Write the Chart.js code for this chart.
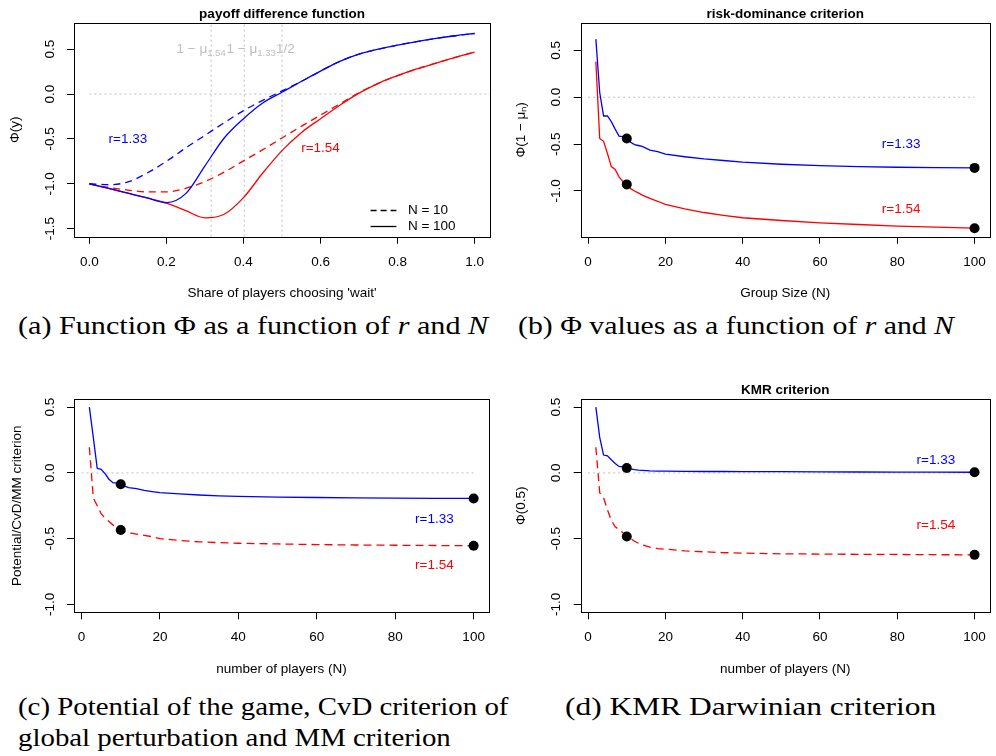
<!DOCTYPE html>
<html>
<head>
<meta charset="utf-8">
<script src="https://cdn.jsdelivr.net/npm/chart.js@4.4.1/dist/chart.umd.min.js"></script>
<style>
  body { margin: 0; background: #fff; width: 996px; height: 756px; position: relative; overflow: hidden; }
  canvas { position: absolute; }
  .cap { position: absolute; font-family: "Liberation Serif", "DejaVu Serif", serif; font-size: 26px; line-height: 31px; color: #000; white-space: nowrap; transform: scaleX(1.16); transform-origin: 0 0; }
</style>
</head>
<body>
<canvas id="chart-a" width="498" height="302" style="left:0;top:0"></canvas>
<canvas id="chart-b" width="496" height="302" style="left:500px;top:0"></canvas>
<canvas id="chart-c" width="498" height="298" style="left:0;top:380px"></canvas>
<canvas id="chart-d" width="496" height="298" style="left:500px;top:380px"></canvas>
<div class="cap" style="left:18px;top:310px">(a) Function Φ as a function of <i>r</i> and <i>N</i></div>
<div class="cap" style="left:518px;top:310px;transform:scaleX(1.145)">(b) Φ values as a function of <i>r</i> and <i>N</i></div>
<div class="cap" style="left:18px;top:691px;transform:scaleX(1.11)">(c) Potential of the game, CvD criterion of<br>global perturbation and MM criterion</div>
<div class="cap" style="left:565px;top:691px;transform:scaleX(1.21)">(d) KMR Darwinian criterion</div>
<script>
// panel (a): payoff difference as a function of the share choosing 'wait'
const shareX = [0, 0.05, 0.1, 0.15, 0.2, 0.25, 0.3, 0.35, 0.4, 0.45, 0.5, 0.55, 0.6, 0.65, 0.7, 0.75, 0.8, 0.85, 0.9, 0.95, 1];
const phiN10r133 = [-1.00, -1.01, -0.98, -0.88, -0.75, -0.60, -0.46, -0.32, -0.185, -0.07, 0.035, 0.14, 0.255, 0.365, 0.445, 0.50, 0.545, 0.585, 0.62, 0.65, 0.675];
const phiN100r133 = [-1.00, -1.052, -1.105, -1.158, -1.21, -1.11, -0.80, -0.49, -0.275, -0.10, 0.02, 0.14, 0.255, 0.365, 0.445, 0.50, 0.545, 0.585, 0.62, 0.65, 0.675];
const phiN10r154 = [-1.00, -1.04, -1.07, -1.09, -1.09, -1.05, -0.975, -0.87, -0.745, -0.62, -0.49, -0.36, -0.235, -0.11, 0.015, 0.12, 0.205, 0.28, 0.345, 0.41, 0.467];
const phiN100r154 = [-1.00, -1.052, -1.105, -1.158, -1.215, -1.30, -1.38, -1.34, -1.155, -0.88, -0.63, -0.43, -0.275, -0.125, 0.01, 0.12, 0.205, 0.28, 0.345, 0.41, 0.467];
const thresholdX = [0.316, 0.402, 0.5];
const shareTicks = [0, 0.2, 0.4, 0.6, 0.8, 1];
const phiTicksA = [-1.5, -1, -0.5, 0, 0.5];

// panels (b)-(d): criteria against group size
const groupN = [2, 3, 4, 5, 6, 7, 8, 9, 10, 11, 12, 13, 14, 16, 18, 20, 25, 30, 35, 40, 50, 60, 70, 80, 90, 100];
const riskR133 = [0.62, 0.05, -0.20, -0.20, -0.26, -0.34, -0.415, -0.42, -0.44, -0.48, -0.505, -0.515, -0.525, -0.565, -0.58, -0.608, -0.635, -0.658, -0.675, -0.693, -0.715, -0.729, -0.74, -0.747, -0.751, -0.754];
const riskR154 = [0.38, -0.44, -0.47, -0.60, -0.74, -0.77, -0.85, -0.90, -0.93, -0.975, -1.0, -1.02, -1.045, -1.08, -1.11, -1.143, -1.19, -1.23, -1.26, -1.286, -1.315, -1.34, -1.358, -1.375, -1.386, -1.397];
const potR133 = [0.50, 0.27, 0.035, 0.028, -0.005, -0.048, -0.074, -0.077, -0.086, -0.10, -0.112, -0.116, -0.12, -0.133, -0.142, -0.15, -0.16, -0.168, -0.174, -0.179, -0.184, -0.187, -0.19, -0.192, -0.193, -0.194];
const potR154 = [0.195, -0.19, -0.25, -0.31, -0.345, -0.37, -0.395, -0.415, -0.434, -0.445, -0.455, -0.46, -0.465, -0.475, -0.485, -0.50, -0.513, -0.524, -0.53, -0.535, -0.54, -0.545, -0.548, -0.55, -0.552, -0.554];
const kmrR133 = [0.50, 0.27, 0.136, 0.13, 0.10, 0.072, 0.049, 0.046, 0.038, 0.03, 0.025, 0.022, 0.02, 0.016, 0.014, 0.013, 0.012, 0.011, 0.011, 0.01, 0.01, 0.008, 0.007, 0.006, 0.006, 0.005];
const kmrR154 = [0.195, -0.15, -0.19, -0.28, -0.36, -0.41, -0.43, -0.455, -0.483, -0.50, -0.52, -0.535, -0.547, -0.565, -0.575, -0.58, -0.593, -0.60, -0.606, -0.61, -0.615, -0.617, -0.619, -0.62, -0.622, -0.623];
const markedN = [10, 100];
const groupTicks = [0, 20, 40, 60, 80, 100];
const phiTicks = [-1, -0.5, 0, 0.5];

const BLUE = "#0000ff";
const RED = "#ff0000";
const GREY = "#bebebe";
const FONT = "'Liberation Sans', Arial, sans-serif";

Chart.defaults.font.family = FONT;
Chart.defaults.font.size = 13.5;
Chart.defaults.color = "#000";

const pts = (xs, ys) => xs.map((x, i) => ({ x: x, y: ys[i] }));
const marks = (ys) => markedN.map((n) => ({ x: n, y: ys[groupN.indexOf(n)] }));

const curve = (data, color, dash, smooth) => ({
  data: data,
  showLine: true,
  borderColor: color,
  borderWidth: 1.3,
  borderDash: dash || [],
  pointRadius: 0,
  cubicInterpolationMode: smooth ? "monotone" : "default",
  tension: 0,
  order: 2,
});
const guide = (data) => ({
  data: data,
  showLine: true,
  borderColor: GREY,
  borderWidth: 1,
  borderDash: [2, 3],
  pointRadius: 0,
  order: 3,
});
const dots = (data) => ({
  data: data,
  showLine: false,
  pointRadius: 5,
  pointBackgroundColor: "#000",
  pointBorderColor: "#000",
  pointBorderWidth: 0,
  order: 0,
});

// R-like box, title, text notes and legend
const rFrame = {
  id: "rFrame",
  afterDatasetsDraw(chart, args, o) {
    const { ctx, chartArea: a, scales } = chart;
    const px = (v) => scales.x.getPixelForValue(v);
    const py = (v) => scales.y.getPixelForValue(v);
    ctx.save();
    ctx.strokeStyle = "#000";
    ctx.lineWidth = 1;
    ctx.setLineDash([]);
    ctx.strokeRect(Math.round(a.left) + 0.5, Math.round(a.top) + 0.5, Math.round(a.right - a.left), Math.round(a.bottom - a.top));
    if (o.title) {
      ctx.font = "bold 13.5px " + FONT;
      ctx.fillStyle = "#000";
      ctx.textAlign = "center";
      ctx.textBaseline = "middle";
      ctx.fillText(o.title, (a.left + a.right) / 2, a.top - 9);
    }
    ctx.font = "13.5px " + FONT;
    ctx.textBaseline = "middle";
    (o.notes || []).forEach((n) => {
      ctx.fillStyle = n.color;
      let x = px(n.x);
      const y = py(n.y);
      if (!n.sub) {
        ctx.textAlign = "center";
        ctx.fillText(n.text, x, y);
        return;
      }
      ctx.font = "13.5px " + FONT;
      const w1 = ctx.measureText(n.text).width;
      ctx.font = "9.5px " + FONT;
      const w2 = ctx.measureText(n.sub).width;
      x -= (w1 + w2) / 2;
      ctx.textAlign = "left";
      ctx.font = "13.5px " + FONT;
      ctx.fillText(n.text, x, y);
      ctx.font = "9.5px " + FONT;
      ctx.fillText(n.sub, x + w1, y + 4);
      ctx.font = "13.5px " + FONT;
    });
    if (o.legend) {
      o.legend.forEach((l) => {
        const y = Math.round(py(l.y)) + 0.5;
        ctx.strokeStyle = "#000";
        ctx.lineWidth = 1.3;
        ctx.setLineDash(l.dash);
        ctx.beginPath();
        ctx.moveTo(px(0.73), y);
        ctx.lineTo(px(0.797), y);
        ctx.stroke();
        ctx.setLineDash([]);
        ctx.fillStyle = "#000";
        ctx.textAlign = "left";
        ctx.fillText(l.text, px(0.827), y);
      });
    }
    ctx.restore();
  },
};

function makePanel(id, cfg) {
  return new Chart(document.getElementById(id), {
    type: "scatter",
    data: { datasets: cfg.datasets },
    options: {
      responsive: false,
      animation: false,
      devicePixelRatio: 1,
      layout: { padding: { left: 0, right: cfg.padRight, top: cfg.padTop, bottom: 0 } },
      plugins: {
        legend: { display: false },
        tooltip: { enabled: false },
        rFrame: { title: cfg.title, notes: cfg.notes, legend: cfg.legend },
      },
      scales: {
        x: {
          type: "linear",
          min: cfg.xMin,
          max: cfg.xMax,
          afterBuildTicks: (s) => { s.ticks = cfg.xTicks.map((v) => ({ value: v })); },
          afterFit: (s) => { s.height = cfg.xAxisH; },
          border: { display: false },
          grid: { drawOnChartArea: false, drawTicks: true, tickLength: 7, tickColor: "#000", tickWidth: 1 },
          ticks: { autoSkip: false, maxRotation: 0, minRotation: 0, padding: 10, callback: cfg.xFmt },
          title: { display: true, text: cfg.xTitle, padding: { top: 0, bottom: 0.6 } },
        },
        y: {
          type: "linear",
          min: cfg.yMin,
          max: cfg.yMax,
          afterBuildTicks: (s) => { s.ticks = cfg.yTicks.map((v) => ({ value: v })); },
          afterFit: (s) => { s.width = cfg.yAxisW; },
          border: { display: false },
          grid: { drawOnChartArea: false, drawTicks: true, tickLength: 7, tickColor: "#000", tickWidth: 1 },
          ticks: { autoSkip: false, minRotation: 90, maxRotation: 90, crossAlign: "center", padding: 5.4, callback: (v) => v.toFixed(1) },
          title: { display: true, text: cfg.yTitle, padding: { top: cfg.yTitlePad, bottom: 0 } },
        },
      },
    },
    plugins: [rFrame],
  });
}

makePanel("chart-a", {
  title: "payoff difference function",
  xTitle: "Share of players choosing 'wait'",
  yTitle: "Φ(y)",
  xMin: -0.04, xMax: 1.04, yMin: -1.59, yMax: 0.792,
  xTicks: shareTicks, yTicks: phiTicksA,
  xFmt: (v) => v.toFixed(1),
  padTop: 23, padRight: 8, yAxisW: 74, xAxisH: 65.3, yTitlePad: 6.9,
  datasets: [
    guide([{ x: 0, y: 0 }, { x: 1.04, y: 0 }]),
    ...thresholdX.map((t) => guide([{ x: t, y: -1.59 }, { x: t, y: 0.792 }])),
    curve(pts(shareX, phiN10r133), BLUE, [7, 5], true),
    curve(pts(shareX, phiN100r133), BLUE, [], true),
    curve(pts(shareX, phiN10r154), RED, [7, 5], true),
    curve(pts(shareX, phiN100r154), RED, [], true),
  ],
  notes: [
    { text: "1 − μ", sub: "1.54", x: 0.29, y: 0.5, color: GREY },
    { text: "1 − μ", sub: "1.33", x: 0.42, y: 0.5, color: GREY },
    { text: "1/2", x: 0.509, y: 0.5, color: GREY },
    { text: "r=1.33", x: 0.1, y: -0.5, color: BLUE },
    { text: "r=1.54", x: 0.6, y: -0.6, color: RED },
  ],
  legend: [
    { text: "N = 10", y: -1.287, dash: [6, 4] },
    { text: "N = 100", y: -1.466, dash: [] },
  ],
});

makePanel("chart-b", {
  title: "risk-dominance criterion",
  xTitle: "Group Size (N)",
  yTitle: "Φ(1 − μₙ)",
  xMin: -1.92, xMax: 103.92, yMin: -1.488, yMax: 0.792,
  xTicks: groupTicks, yTicks: phiTicks,
  xFmt: (v) => String(v),
  padTop: 23, padRight: 1, yAxisW: 80.7, xAxisH: 65.3, yTitlePad: 13.6,
  datasets: [
    guide([{ x: 0, y: 0 }, { x: 100, y: 0 }]),
    curve(pts(groupN, riskR133), BLUE, [], false),
    curve(pts(groupN, riskR154), RED, [], false),
    dots(marks(riskR133)),
    dots(marks(riskR154)),
  ],
  notes: [
    { text: "r=1.33", x: 81, y: -0.5, color: BLUE },
    { text: "r=1.54", x: 81, y: -1.2, color: RED },
  ],
});

makePanel("chart-c", {
  title: null,
  xTitle: "number of players (N)",
  yTitle: "Potential/CvD/MM criterion",
  xMin: -1.92, xMax: 103.92, yMin: -1.06, yMax: 0.56,
  xTicks: groupTicks, yTicks: phiTicks,
  xFmt: (v) => String(v),
  padTop: 19.3, padRight: 9, yAxisW: 74, xAxisH: 65.7, yTitlePad: 9.2,
  datasets: [
    guide([{ x: 0, y: 0 }, { x: 100, y: 0 }]),
    curve(pts(groupN, potR133), BLUE, [], false),
    curve(pts(groupN, potR154), RED, [8, 5], false),
    dots(marks(potR133)),
    dots(marks(potR154)),
  ],
  notes: [
    { text: "r=1.33", x: 90, y: -0.35, color: BLUE },
    { text: "r=1.54", x: 90, y: -0.70, color: RED },
  ],
});

makePanel("chart-d", {
  title: "KMR criterion",
  xTitle: "number of players (N)",
  yTitle: "Φ(0.5)",
  xMin: -1.92, xMax: 103.92, yMin: -1.06, yMax: 0.56,
  xTicks: groupTicks, yTicks: phiTicks,
  xFmt: (v) => String(v),
  padTop: 19.3, padRight: 1, yAxisW: 80.7, xAxisH: 65.7, yTitlePad: 13.6,
  datasets: [
    guide([{ x: 0, y: 0 }, { x: 100, y: 0 }]),
    curve(pts(groupN, kmrR133), BLUE, [], false),
    curve(pts(groupN, kmrR154), RED, [8, 5], false),
    dots(marks(kmrR133)),
    dots(marks(kmrR154)),
  ],
  notes: [
    { text: "r=1.33", x: 90, y: 0.1, color: BLUE },
    { text: "r=1.54", x: 90, y: -0.4, color: RED },
  ],
});
</script>
</body>
</html>
